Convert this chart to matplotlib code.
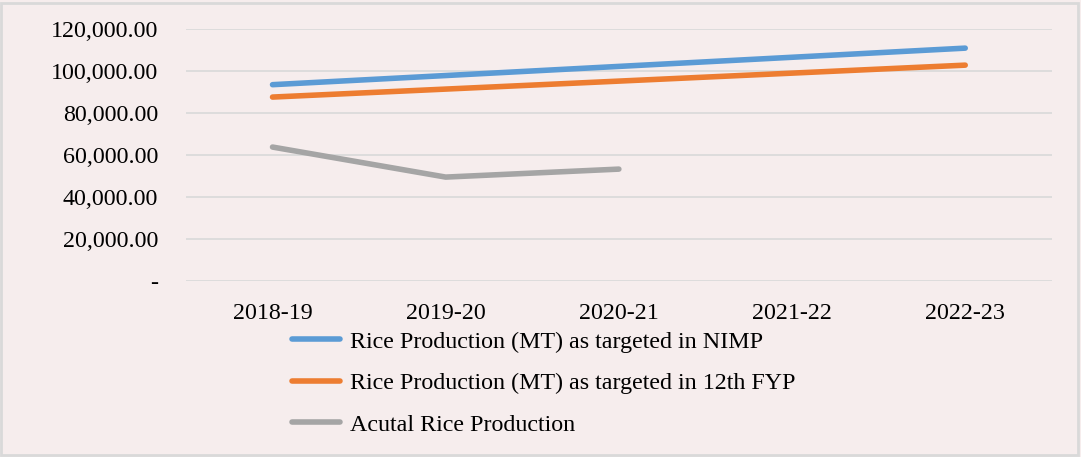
import matplotlib.pyplot as plt
from matplotlib.ticker import FuncFormatter
from matplotlib.patches import Rectangle

years = ['2018-19', '2019-20', '2020-21', '2021-22', '2022-23']
nimp_target = [93500, 97850, 102200, 106550, 110900]
fyp_target = [87600, 91400, 95200, 99000, 102800]
actual = [63800, 49500, 53300]
labels = ['Rice Production (MT) as targeted in NIMP',
          'Rice Production (MT) as targeted in 12th FYP',
          'Acutal Rice Production']
colors = ['#5b9bd5', '#ed7d31', '#a5a5a5']

bg = '#f6eded'
plt.rcParams['font.family'] = ['Liberation Serif', 'DejaVu Serif']

fig = plt.figure(figsize=(10.81, 4.57), dpi=100, facecolor=bg)
fig.patches.append(Rectangle((0.001, 0.004), 0.996, 0.99, transform=fig.transFigure,
                             fill=False, edgecolor='#d9d9d9', linewidth=2))
ax = fig.add_axes([0.172, 0.385, 0.801, 0.5515])
ax.set_facecolor(bg)

x = range(len(years))
for vals, lab, col in zip([nimp_target, fyp_target, actual], labels, colors):
    ax.plot(list(x)[:len(vals)], vals, color=col, lw=4.0, solid_capstyle='round', label=lab)

ax.set_xlim(-0.5, len(years) - 0.5)
ax.set_ylim(0, 120000)
ax.set_yticks(range(0, 120001, 20000))
ax.yaxis.set_major_formatter(FuncFormatter(lambda v, p: '-' if v == 0 else f'{v:,.2f}'))
ax.set_xticks(list(x))
ax.set_xticklabels(years)
ax.tick_params(length=0, labelsize=17.3, colors='#000000')
ax.tick_params(axis='y', pad=20)
ax.tick_params(axis='x', pad=16)
ax.grid(axis='y', color='#d9d9d9', lw=1.2)
ax.set_axisbelow(True)
for s in ax.spines.values():
    s.set_visible(False)

fig.legend(loc='upper left', bbox_to_anchor=(292 / 1081, 1 - 331 / 457), frameon=False,
           fontsize=17.3, handlelength=2.0, handletextpad=0.42, labelspacing=0.82,
           borderpad=0, borderaxespad=0)

fig.savefig('out.png', dpi=100, facecolor=bg)
